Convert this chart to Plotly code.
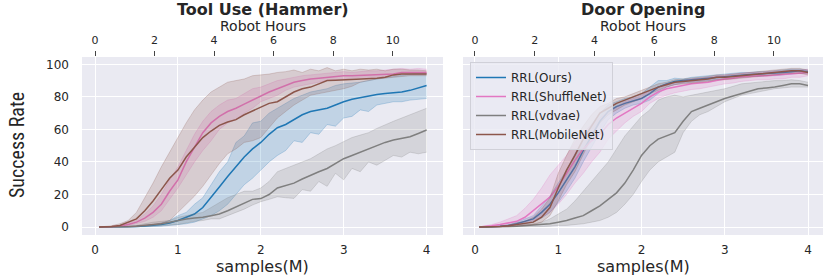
import plotly.graph_objects as go

# ---------------- data ----------------
samples_m = [0.05, 0.1, 0.2, 0.3, 0.4, 0.5, 0.6, 0.7, 0.8, 0.9, 1.0, 1.1, 1.2, 1.3, 1.4, 1.5,
             1.6, 1.7, 1.8, 1.9, 2.0, 2.1, 2.2, 2.3, 2.4, 2.5, 2.6, 2.7, 2.8, 2.9, 3.0, 3.1,
             3.2, 3.3, 3.4, 3.5, 3.6, 3.7, 3.8, 3.9, 4.0]

series_names = ["RRL(Ours)", "RRL(ShuffleNet)", "RRL(vdvae)", "RRL(MobileNet)"]
series_colors = ["#1f77b4", "#e377c2", "#7f7f7f", "#8c564b"]

# Tool Use (Hammer)
ham_ours = [0,0,0,0,0.2,0.4,0.7,1,1.5,2.5,4,6,8,12,18,24.6,31,37,43,48,52,57,61,63,66,69,71,72,73,75,77,78.5,79.5,80.5,81.5,82,82.5,83,84,85.5,87]
ham_ours_lo = [0,0,0,0,0,0.1,0.2,0.3,0.5,1,1.5,2,3,5,7,10,14,20,26,30,35,40,44,47,53,52,58,57,63,62,67,68,72,71,75,76,77,77,78,78.5,79]
ham_ours_hi = [0,0,0.1,0.2,0.5,0.8,1.2,1.5,2.5,4,7,9,14,18,26,34,40,52,56,64,65,70,73,76,79,81,83,84,85,87,88,88.5,89,90,91,92,92.5,93.4,94,94.5,94.5]

ham_shuf = [0,0,0.2,0.6,1.5,3,5.5,9,14,22,29,40,49,58,64,68,71,73,75.5,78,81,83,85,87,89,90,91,91.5,92,92.5,93,93,93.2,93.4,93.5,93.6,94,95,95.2,95,95]
ham_shuf_lo = [0,0,0.1,0.3,0.8,2,3.5,6,10,17,24,32,40,47,53,60,64,66,70,73,77,79,81,84,86,87,88,89,90,90.5,91,91.5,92,92,92,92.5,93,94,94,94,94]
ham_shuf_hi = [0,0,0.3,1,2.5,4,8,13,20,29,37,47,57,65,71,75,78,79,82,85,86,88,90,91,92,93,93.5,94,94.5,95,95.5,95,95.5,96,96,96.5,97,97.5,97,97.5,97]

ham_vd = [0,0,0,0,0.2,0.5,1,1.5,2,3,4,5,5.5,6,7,8,10,12.5,15,17,17.5,20,24,25.5,27,29.5,32,34,36,39,42,44,46,48,50,52,53.5,54.5,55.5,57.5,59.6]
ham_vd_lo = [0,0,0,0,0,0.1,0.3,0.5,0.8,1,1.5,2.5,3.5,4,5,5,7,9,11,13.5,15.6,17,18.6,18,17.6,23,22,28,25,33,29,36,34,40,38,41,44,43,46,45,46]
ham_vd_hi = [0,0,0,0.2,0.5,1,2,3,3.5,4,6,7,8,9,12,15,18,20,22,22,24,28,34,36,38,40,42,45,48,50,52.5,55,56.5,58,60.6,63,65,67,69,71,73]

ham_mob = [0,0,0.3,1,3,5,10,16,23,30,35,43,49,55,59,62.5,64.5,66,69,71.5,74,76,77,80,83,85,86,88,90,90.2,90.4,90.7,91,91.2,91.4,92,93.5,94,94.2,94,94]
ham_mob_lo = [0,0,0,0.2,0.3,0.5,1,1.5,2,4,9,14,19,25,32,39,45,48,52,53,55,61,67,71,75,78,81,82,83,84,85,86.5,89,90,91,91.5,92,92.5,93,93,93]
ham_mob_hi = [0,0.2,0.8,2,4,9,18,27,37,46,55,64,72,78,83,86,89,90,91,93,93.5,94,95,95.5,96.5,95,97,96,98,96,97,96,97,96.5,97,96,97,97,96.5,96.5,96]

# Door Opening
door_ours = [0,0,0.2,0.5,1,2,3.5,5,9,14,21,29,37,47,56,65,71,74,76,77.5,79,82,86,88,89.5,90,90.5,91,91.4,92,92.5,93,93.4,93.8,94,94.2,94.5,95,95.5,96,95.5]
door_ours_lo = [0,0,0.1,0.3,0.6,1.2,2,3,5.5,9,15,22,30,40,49,58,66,70,73,75,76,78,82,86,87.5,88.5,89,89.5,90,90.5,91,91.5,92,92.5,92.5,93,93,93.5,94,94.5,94.5]
door_ours_hi = [0,0,0.3,0.8,1.5,3,5,7,13,19,27,35,45,54,63,70,75,77,79,80,82,86,90,90,91.5,91,92,92.5,93,93.5,94,94.5,95,95,95.5,95.5,96,96.5,97,97,96.5]

door_shuf = [0,0.2,0.8,1.5,2.5,3.5,6,10,14,18.4,25,33,41,48,53,57,63,67,70,73,76,80,83,85,86,87,88,88.5,89,90,91,91.5,92.4,92.5,93,93,93.4,93.8,94.5,94.5,95]
door_shuf_lo = [0,0,0.2,0.5,1,1.5,2,4,6,9,14,20,27,33,40,46,54,59,64,68,71,76,79,81,82.5,83.5,84.5,85,86,87,88,88.5,89.5,90,90.5,90.5,91,91,92,92,93]
door_shuf_hi = [0,0.5,1.5,3,5,7,11.5,17,24,32,38,44,52,58,63,67,71,74,77,79,81,84,86,88,89,90,91,91.5,92,93,93.5,94,94.5,95,95,95.5,96,96,96.5,96.5,97]

door_vd = [0,0,0,0.1,0.3,0.5,0.8,1.2,1.5,2,3,4,5.5,7,10,13,17,21,27,35,44,50,54,56,58,65,71,73,75,77,79,80.5,82,83.5,85,85.5,86,87,88,88,87]
door_vd_lo = [0,0,0,0,0,0.1,0.1,0.2,0.3,0.5,1,1,1.5,2,3,4,6,9,14,20,28,35,40,43,46,58,65,69,71,74,77,79,81,82,83,84,85,85.5,86,86,86]
door_vd_hi = [0,0,0.1,0.3,0.6,1,1.5,2,3,5,8,11,16,22,28,34,40,48,56,62,68,72,78,80,81,80,81,82,83,84,85,86.5,88,88.5,89,89.5,90,90,90.5,90,89]

door_mob = [0,0,0.2,0.4,0.8,1.5,2,3,6,12,24,35,44,54,62,70,73,76,78,80,82,84,86,87.5,89,89.5,90,90.5,91,92,92,92.5,93,93.5,94,94.5,95,95.5,96,96,95]
door_mob_lo = [0,0,0.1,0.2,0.4,0.8,1,1.5,3,7,16,26,34,45,55,64,69,72,75,77,79,82,84,86,87.5,88,88.5,89,89.5,90.5,90.5,91,91.5,92,92.5,93,93.5,94,94.5,94.5,93.5]
door_mob_hi = [0,0,0.3,0.6,1.2,2.5,3.5,6,11,18,33,44,54,62,69,74,76,79,80,82,84,86,88,89,90.5,91,91.5,92,92.5,93.5,93.5,94,94.5,95,95.5,96,96.5,97,97.5,97.5,96.5]

panel_titles = ["Tool Use (Hammer)", "Door Opening"]
x_ticks = [0, 1, 2, 3, 4]
y_ticks = [0, 20, 40, 60, 80, 100]
hour_ticks = [0, 2, 4, 6, 8, 10]
HOURS_PER_M = 2.785

panels = [
    [(ham_ours, ham_ours_lo, ham_ours_hi), (ham_shuf, ham_shuf_lo, ham_shuf_hi),
     (ham_vd, ham_vd_lo, ham_vd_hi), (ham_mob, ham_mob_lo, ham_mob_hi)],
    [(door_ours, door_ours_lo, door_ours_hi), (door_shuf, door_shuf_lo, door_shuf_hi),
     (door_vd, door_vd_lo, door_vd_hi), (door_mob, door_mob_lo, door_mob_hi)],
]

# ---------------- figure ----------------
W, H = 830, 277
FONT = "DejaVu Sans, Verdana, sans-serif"
TXT = "#262626"


def rgba(hex_color, a):
    h = hex_color.lstrip("#")
    r, g, b = int(h[0:2], 16), int(h[2:4], 16), int(h[4:6], 16)
    return f"rgba({r},{g},{b},{a})"


fig = go.Figure()
axis_pairs = [("x", "y"), ("x2", "y2")]
for p, (xa, ya) in enumerate(axis_pairs):
    for s, (mean, lo, hi) in enumerate(panels[p]):
        c = series_colors[s]
        fig.add_trace(go.Scatter(x=samples_m, y=lo, xaxis=xa, yaxis=ya, mode="lines",
                                 line=dict(color=rgba(c, 0.3), width=0.8),
                                 showlegend=False, hoverinfo="skip"))
        fig.add_trace(go.Scatter(x=samples_m, y=hi, xaxis=xa, yaxis=ya, mode="lines",
                                 line=dict(color=rgba(c, 0.3), width=0.8),
                                 fill="tonexty", fillcolor=rgba(c, 0.2),
                                 showlegend=False, hoverinfo="skip"))
        fig.add_trace(go.Scatter(x=samples_m, y=mean, xaxis=xa, yaxis=ya, mode="lines",
                                 line=dict(color=c, width=1.5),
                                 name=series_names[s], showlegend=(p == 1)))
    # invisible trace on the Robot Hours axis
    fig.add_trace(go.Scatter(x=[v * HOURS_PER_M for v in samples_m], y=panels[p][0][0],
                             xaxis="x3" if p == 0 else "x4", yaxis=ya, mode="lines",
                             opacity=0, showlegend=False, hoverinfo="skip"))

xr_left = [-0.157, 4.198]
xr_right = [-0.144, 4.18]
yr = [-4.9, 104.5]

dom_left = [82 / W, 443 / W]
dom_right = [463 / W, 823 / W]
dom_y = [(H - 235) / H, (H - 57) / H]

bottom_x = dict(tickvals=x_ticks, showgrid=True, gridcolor="white", gridwidth=1.2,
                zeroline=False, showline=False, ticks="", ticklabelstandoff=6,
                automargin=False, tickfont=dict(family=FONT, size=12, color=TXT))
top_x = dict(tickvals=hour_ticks, showgrid=False, zeroline=False, showline=False,
             ticks="outside", ticklen=5, tickwidth=1, tickcolor="#444444",
             side="top", automargin=False, ticklabelstandoff=3,
             tickfont=dict(family=FONT, size=11, color=TXT))

fig.update_layout(
    template="none",
    width=W, height=H,
    margin=dict(l=0, r=0, t=0, b=0, autoexpand=False),
    paper_bgcolor="white", plot_bgcolor="#eaeaf2",
    xaxis=dict(domain=dom_left, range=xr_left, anchor="y", **bottom_x),
    xaxis2=dict(domain=dom_right, range=xr_right, anchor="y2", **bottom_x),
    xaxis3=dict(overlaying="x", anchor="y", range=[v * HOURS_PER_M for v in xr_left], **top_x),
    xaxis4=dict(overlaying="x2", anchor="y2", range=[v * HOURS_PER_M for v in xr_right], **top_x),
    yaxis=dict(domain=dom_y, range=yr, tickvals=y_ticks, showgrid=True, gridcolor="white",
               gridwidth=1.2, zeroline=False, showline=False, ticks="", ticklabelstandoff=12,
               automargin=False, tickfont=dict(family=FONT, size=12, color=TXT), anchor="x"),
    yaxis2=dict(domain=dom_y, range=yr, tickvals=y_ticks, showgrid=True, gridcolor="white",
                gridwidth=1.2, zeroline=False, showline=False, showticklabels=False,
                automargin=False, ticks="", anchor="x2", matches="y"),
    legend=dict(x=470 / W, y=(H - 62) / H, xanchor="left", yanchor="top",
                traceorder="normal",
                bgcolor="rgba(234,234,242,0.8)", bordercolor="#d0d0d8", borderwidth=1,
                font=dict(family=FONT, size=12, color=TXT), tracegroupgap=0,
                itemwidth=30),
    showlegend=True,
)

annotations = []
centers = [(82 + 443) / 2 / W, (463 + 823) / 2 / W]
for i, t in enumerate(panel_titles):
    annotations.append(dict(text=f"<b>{t}</b>", x=centers[i], y=(H - 9) / H, xref="paper",
                            yref="paper", showarrow=False, xanchor="center", yanchor="middle",
                            font=dict(family=FONT, size=16, color=TXT)))
    annotations.append(dict(text="Robot Hours", x=centers[i], y=(H - 26) / H, xref="paper",
                            yref="paper", showarrow=False, xanchor="center", yanchor="middle",
                            font=dict(family=FONT, size=14, color=TXT)))
    annotations.append(dict(text="samples(M)", x=centers[i], y=(H - 266) / H, xref="paper",
                            yref="paper", showarrow=False, xanchor="center", yanchor="middle",
                            font=dict(family=FONT, size=16, color=TXT)))
annotations.append(dict(text="Success Rate", x=17 / W, y=(H - 145) / H, xref="paper",
                        yref="paper", showarrow=False, textangle=-90, xanchor="center",
                        yanchor="middle",
                        font=dict(family="Liberation Sans Narrow, Roboto Condensed, Noto Sans, sans-serif",
                                  size=20, color=TXT)))
fig.update_layout(annotations=annotations)

fig.write_html("out.html", config={"displayModeBar": False},
               post_script="document.body.style.margin='0';document.body.style.overflow='hidden';")
